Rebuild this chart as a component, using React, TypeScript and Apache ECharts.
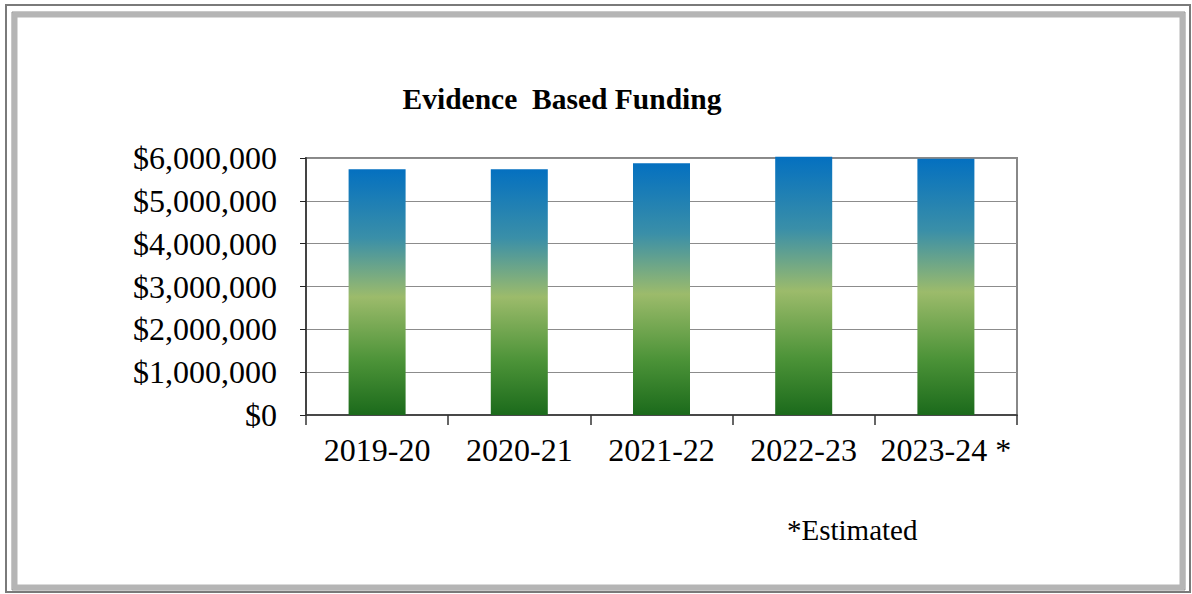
import React, { useEffect, useRef } from "react";
import * as echarts from "echarts";

const categories = ["2019-20", "2020-21", "2021-22", "2022-23", "2023-24 *"];
const funding = [5740000, 5740000, 5880000, 6030000, 5980000];
const yTicks = { min: 0, max: 6000000, interval: 1000000 };
const titleText = "Evidence  Based Funding";
const noteText = "*Estimated";

const FONT = "'Liberation Serif', 'Times New Roman', serif";

export default function App() {
  const ref = useRef<HTMLDivElement>(null);
  useEffect(() => {
    if (!ref.current) return;
    const chart = echarts.init(ref.current, undefined, { renderer: "svg" });
    const fmt = (v: number) => "$" + Math.round(v).toString().replace(/\B(?=(\d{3})+(?!\d))/g, ",");
    chart.setOption({
      animation: false,
      backgroundColor: "#ffffff",
      title: {
        text: titleText,
        left: 557,
        top: 79,
        textAlign: "center",
        textStyle: { fontFamily: FONT, fontSize: 29.5, fontWeight: "bold", color: "#000" },
      },
      graphic: [
        {
          type: "rect",
          shape: { x: 6, y: 5, width: 1184, height: 587 },
          style: { fill: "none", stroke: "#7a7a7a", lineWidth: 2 },
          silent: true,
        },
        {
          type: "rect",
          shape: { x: 15, y: 15, width: 1167, height: 572 },
          style: { fill: "none", stroke: "#b5b5b5", lineWidth: 5 },
          silent: true,
        },
        {
          type: "rect",
          shape: { x: 12, y: 12, width: 1173, height: 578 },
          style: { fill: "none", stroke: "#909090", lineWidth: 1 },
          silent: true,
        },
        {
          type: "text",
          left: 787,
          top: 515,
          style: { text: noteText, font: `29px ${FONT}`, fill: "#000" },
          silent: true,
        },
      ],
      grid: {
        left: 306,
        right: 175,
        top: 158,
        bottom: 179,
        show: true,
        borderColor: "#888",
        borderWidth: 2,
        backgroundColor: "transparent",
      },
      xAxis: {
        type: "category",
        data: categories,
        axisLine: { lineStyle: { color: "#333", width: 1.5 } },
        axisTick: { show: true, length: 10, lineStyle: { color: "#333", width: 1.5 } },
        axisLabel: { fontFamily: FONT, fontSize: 32, color: "#000", margin: 19, interval: 0 },
      },
      yAxis: {
        type: "value",
        min: yTicks.min,
        max: yTicks.max,
        interval: yTicks.interval,
        axisLine: { show: true, lineStyle: { color: "#444", width: 2 } },
        axisTick: { show: true, length: 6, lineStyle: { color: "#222", width: 1 } },
        splitLine: { show: true, lineStyle: { color: "#8c8c8c", width: 1 } },
        axisLabel: { fontFamily: FONT, fontSize: 32, color: "#000", margin: 29, formatter: fmt },
      },
      series: [
        {
          type: "bar",
          data: funding,
          barWidth: 57,
          clip: false,
          itemStyle: {
            color: new echarts.graphic.LinearGradient(0, 0, 0, 1, [
              { offset: 0, color: "#0470C0" },
              { offset: 0.28, color: "#3A8FA8" },
              { offset: 0.52, color: "#9CBB6B" },
              { offset: 0.78, color: "#4C9338" },
              { offset: 1, color: "#1B6A1B" },
            ]),
          },
        },
      ],
    });
    return () => chart.dispose();
  }, []);
  return (
    <div
      ref={ref}
      style={{ position: "absolute", left: 0, top: 0, width: 1192, height: 594 }}
    />
  );
}
